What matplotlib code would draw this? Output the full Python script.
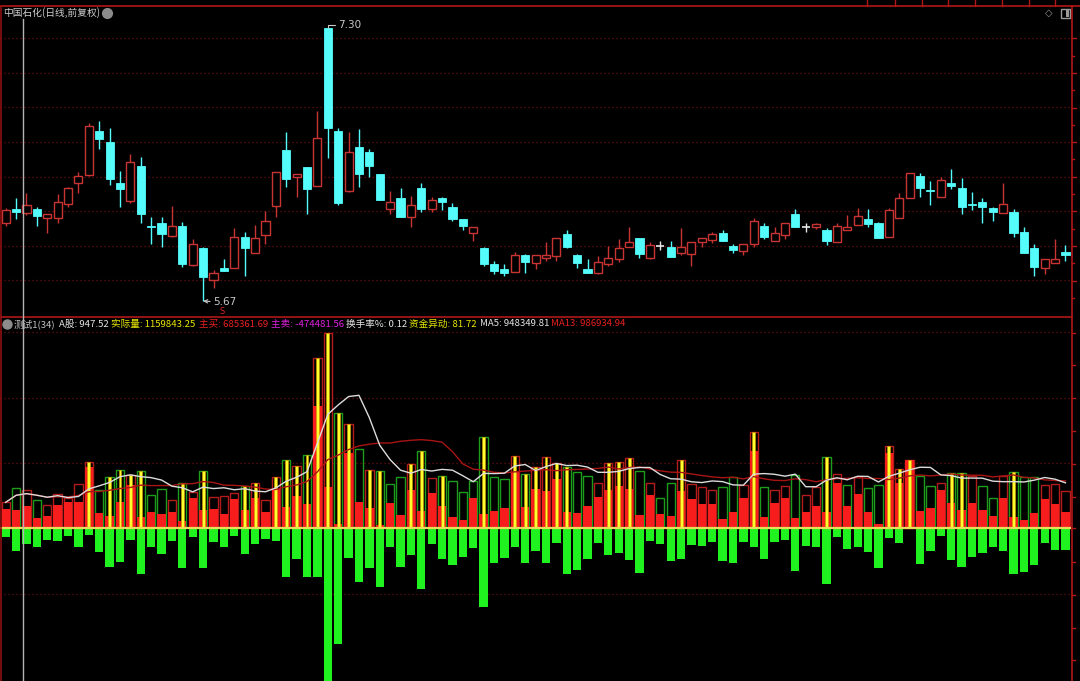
import numpy as np
import pandas as pd
import matplotlib
matplotlib.use("Agg")
import matplotlib.pyplot as plt
from matplotlib.lines import Line2D
from matplotlib.patches import Rectangle

plt.rcParams['font.family'] = ['Noto Sans CJK SC', 'DejaVu Sans']

# ---------------- data ----------------
title = "中国石化(日线,前复权)"

open_ = [6.134, 6.219, 6.197, 6.219, 6.168, 6.168, 6.249, 6.373, 6.422, 6.685,
         6.621, 6.376, 6.267, 6.478, 6.118, 6.136, 6.060, 6.118, 5.887, 5.985,
         5.794, 5.869, 5.865, 6.054, 5.959, 6.064, 6.239, 6.572, 6.412, 6.468,
         6.359, 7.300, 6.685, 6.329, 6.591, 6.562, 6.428, 6.218, 6.283, 6.173,
         6.343, 6.218, 6.283, 6.230, 6.160, 6.074, 5.985, 5.891, 5.861, 5.845,
         5.945, 5.899, 5.925, 5.941, 6.068, 5.945, 5.861, 5.836, 5.889, 5.919,
         5.991, 6.048, 5.925, 6.000, 5.994, 5.959, 5.951, 6.024, 6.034, 6.074,
         6.000, 5.969, 6.009, 6.118, 6.030, 6.064, 6.188, 6.110, 6.114, 6.094,
         6.024, 6.094, 6.124, 6.160, 6.138, 6.050, 6.168, 6.283, 6.416, 6.333,
         6.289, 6.373, 6.343, 6.249, 6.259, 6.224, 6.197, 6.200, 6.084, 5.985,
         5.865, 5.899, 5.965]
high = [6.224, 6.283, 6.317, 6.230, 6.188, 6.307, 6.349, 6.442, 6.731, 6.745,
        6.701, 6.446, 6.548, 6.528, 6.170, 6.170, 6.237, 6.144, 6.038, 5.994,
        5.855, 5.921, 6.108, 6.084, 6.124, 6.207, 6.442, 6.677, 6.427, 6.468,
        6.805, 7.300, 6.703, 6.677, 6.697, 6.578, 6.428, 6.329, 6.343, 6.297,
        6.376, 6.289, 6.293, 6.253, 6.160, 6.110, 5.994, 5.911, 5.891, 5.965,
        5.951, 5.945, 6.021, 6.048, 6.094, 5.951, 5.919, 5.939, 5.999, 6.038,
        6.114, 6.048, 6.024, 6.030, 6.030, 6.104, 6.024, 6.044, 6.080, 6.094,
        6.010, 6.010, 6.164, 6.138, 6.114, 6.138, 6.219, 6.138, 6.138, 6.108,
        6.134, 6.184, 6.224, 6.219, 6.144, 6.224, 6.313, 6.436, 6.436, 6.387,
        6.409, 6.458, 6.403, 6.319, 6.283, 6.230, 6.373, 6.219, 6.114, 6.010,
        5.919, 6.038, 6.004]
low = [6.118, 6.160, 6.184, 6.118, 6.078, 6.138, 6.230, 6.313, 6.416, 6.578,
       6.363, 6.230, 6.253, 6.138, 6.010, 5.994, 6.054, 5.871, 5.879, 5.670,
       5.746, 5.851, 5.865, 5.819, 5.959, 6.010, 6.170, 6.353, 6.293, 6.188,
       6.359, 6.522, 6.245, 6.323, 6.353, 6.409, 6.273, 6.190, 6.170, 6.110,
       6.203, 6.203, 6.213, 6.150, 6.094, 6.030, 5.881, 5.831, 5.819, 5.842,
       5.839, 5.861, 5.911, 5.911, 5.985, 5.869, 5.839, 5.831, 5.881, 5.905,
       5.991, 5.925, 5.921, 5.975, 5.931, 5.945, 5.881, 5.991, 6.015, 6.030,
       5.955, 5.945, 5.994, 6.038, 6.030, 6.038, 6.110, 6.084, 6.098, 6.004,
       6.024, 6.094, 6.124, 6.110, 6.048, 6.050, 6.168, 6.283, 6.293, 6.243,
       6.289, 6.337, 6.188, 6.213, 6.138, 6.148, 6.194, 6.054, 5.955, 5.821,
       5.831, 5.895, 5.911]
close = [6.213, 6.203, 6.242, 6.178, 6.188, 6.259, 6.343, 6.415, 6.717, 6.636,
         6.397, 6.337, 6.498, 6.190, 6.110, 6.068, 6.118, 5.891, 6.010, 5.812,
         5.837, 5.851, 6.054, 5.987, 6.046, 6.148, 6.439, 6.397, 6.427, 6.337,
         6.642, 6.705, 6.253, 6.558, 6.428, 6.478, 6.273, 6.259, 6.170, 6.242,
         6.219, 6.273, 6.263, 6.160, 6.118, 6.110, 5.891, 5.851, 5.836, 5.945,
         5.901, 5.945, 5.945, 6.048, 5.994, 5.895, 5.839, 5.901, 5.929, 5.985,
         6.024, 5.951, 6.004, 6.000, 5.931, 5.994, 6.024, 6.044, 6.068, 6.030,
         5.975, 6.010, 6.148, 6.054, 6.074, 6.138, 6.110, 6.110, 6.130, 6.030,
         6.118, 6.110, 6.178, 6.130, 6.048, 6.213, 6.283, 6.436, 6.347, 6.327,
         6.393, 6.357, 6.230, 6.243, 6.230, 6.203, 6.249, 6.078, 5.955, 5.871,
         5.919, 5.919, 5.945]

# lower indicator (units: 万手)
actual_vol = [26.0, 40.0, 38.0, 28.3, 23.0, 34.0, 30.0, 44.0, 66.0, 38.3,
              51.0, 58.7, 53.3, 57.0, 33.3, 39.0, 28.0, 45.3, 36.7, 57.0,
              31.7, 32.0, 35.3, 42.0, 45.3, 28.0, 51.3, 68.7, 62.0, 73.0,
              170.3, 195.7, 115.7, 104.0, 79.3, 58.3, 57.7, 44.0, 51.3, 64.0,
              77.0, 50.0, 52.3, 47.3, 36.0, 47.3, 91.7, 51.3, 49.3, 72.3,
              54.3, 61.7, 71.0, 65.0, 61.7, 56.0, 52.3, 45.0, 65.0, 66.3,
              70.0, 57.7, 45.0, 30.0, 45.0, 68.0, 44.7, 41.0, 38.0, 41.7,
              51.7, 43.3, 96.0, 41.0, 38.0, 42.3, 53.3, 33.3, 41.0, 71.0,
              54.0, 43.3, 51.0, 40.0, 43.3, 82.3, 59.0, 68.0, 52.7, 42.3,
              45.0, 55.3, 55.7, 52.7, 42.0, 30.0, 52.7, 56.0, 51.0, 51.0,
              43.3, 44.3, 37.7]
main_buy = [19.3, 18.0, 22.7, 10.7, 12.7, 23.3, 26.0, 26.7, 61.0, 15.7,
            12.7, 26.7, 43.3, 11.7, 16.3, 14.7, 16.3, 7.3, 30.7, 18.0,
            19.3, 14.0, 29.3, 18.0, 30.7, 16.7, 39.3, 21.0, 32.3, 24.7,
            122.3, 41.7, 4.0, 75.7, 26.7, 20.7, 3.0, 25.7, 13.3, 38.0,
            17.3, 35.0, 22.7, 11.0, 8.3, 30.7, 14.3, 17.0, 20.3, 56.7,
            21.0, 39.3, 37.3, 49.3, 16.3, 15.3, 22.3, 31.0, 38.7, 42.7,
            39.3, 13.0, 33.3, 14.7, 12.3, 37.0, 29.3, 24.7, 24.0, 9.3,
            16.7, 30.7, 77.7, 11.7, 25.7, 30.7, 10.7, 16.3, 22.7, 16.3,
            45.7, 22.3, 34.3, 16.3, 4.0, 75.0, 45.0, 68.0, 17.3, 20.7,
            38.7, 25.0, 18.0, 25.0, 18.3, 12.7, 30.7, 11.0, 8.0, 15.0,
            29.3, 24.3, 16.7]
main_sell = [-8.3, -22.7, -15.7, -18.3, -11.7, -12.3, -7.3, -19.0, -6.7, -23.3,
             -39.0, -33.3, -11.7, -46.0, -18.3, -25.7, -12.7, -39.3, -8.3, -40.0,
             -13.7, -19.0, -7.3, -26.0, -15.7, -11.0, -13.0, -48.3, -30.7, -49.0,
             -48.3, -165.0, -116.0, -29.3, -53.3, -39.7, -59.0, -19.0, -39.0, -26.7,
             -60.7, -16.0, -30.7, -36.7, -28.3, -20.0, -78.3, -34.3, -30.0, -18.3,
             -34.3, -22.7, -34.3, -15.0, -45.7, -41.7, -30.7, -15.0, -26.7, -25.0,
             -31.7, -45.0, -12.7, -15.7, -32.3, -31.0, -16.7, -17.3, -14.0, -32.3,
             -35.0, -14.0, -19.0, -30.7, -13.3, -12.0, -42.7, -17.7, -19.0, -55.7,
             -9.0, -21.0, -18.3, -23.3, -39.3, -9.3, -15.0, -0.7, -36.0, -22.7,
             -7.3, -31.7, -39.0, -28.3, -24.3, -18.3, -22.7, -46.0, -43.7, -36.7,
             -15.0, -21.3, -21.7]
surge_days = [8, 10, 11, 12, 13, 17, 19, 23, 24, 26, 27, 28, 29, 30, 31, 32, 33,
              35, 36, 39, 40, 42, 46, 49, 50, 51, 52, 53, 54, 58, 59, 60, 65,
              72, 79, 85, 86, 87, 91, 92, 97]

high_label, low_label = "7.30", "5.67"
header_items = [("测试1(34)", '#c4c4c4'), ("A股: 947.52", '#e6e6e6'),
                ("实际量: 1159843.25", '#e8e800'), ("主买: 685361.69", '#e82020'),
                ("主卖: -474481.56", '#e020e0'), ("换手率%: 0.12", '#e6e6e6'),
                ("资金异动: 81.72", '#e8e800'), ("MA5: 948349.81", '#e6e6e6'),
                ("MA13: 986934.94", '#e82020')]
header_x = [14, 59, 111, 199, 271, 346, 409, 480, 551]

# ---------------- layout ----------------
W, H = 1080, 681
fig = plt.figure(figsize=(W / 100, H / 100), dpi=100, facecolor='black')

def fx(x):
    return x / W

def fy(y):
    return 1 - y / H

def px_line(x0, y0, x1, y1, **kw):
    fig.add_artist(Line2D([fx(x0), fx(x1)], [fy(y0), fy(y1)], **kw))

LEFT, RIGHT = 0.0, 1071.7
TOP_A, TOP_B = 5.5, 316.7
STEP, X0PX = 10.39, 5.7

ax1 = fig.add_axes([fx(LEFT), fy(TOP_B), fx(RIGHT - LEFT), (TOP_B - TOP_A) / H])
ax2 = fig.add_axes([fx(LEFT), 0, fx(RIGHT - LEFT), (H - TOP_B) / H])
xlim = ((LEFT - X0PX) / STEP, (RIGHT - X0PX) / STEP)
for ax in (ax1, ax2):
    ax.set_facecolor('black')
    ax.set_xlim(*xlim)
    ax.set_xticks([]); ax.set_yticks([])
    for s in ax.spines.values():
        s.set_visible(False)
ax1.set_ylim(5.5764, 7.4343)
ax2.set_ylim(-152.7, 211.6)

GRID_C = '#6e0c0c'
for k in range(8):
    ypx = 38.3 + 34.6 * k
    f = (TOP_B - ypx) / (TOP_B - TOP_A)
    ax1.plot([0, 1], [f, f], transform=ax1.transAxes, color=GRID_C, lw=0.9,
             ls=(0, (1, 2.2)), zorder=0.5)
for v in (-65.3, 65.3, 130.6, 195.9):
    ax2.axhline(v, color=GRID_C, lw=0.9, ls=(0, (1, 2.2)), zorder=0.5)

# ---------------- candles ----------------
o = np.array(open_); h = np.array(high); l = np.array(low); c = np.array(close)
n = len(c)
xs = np.arange(n)
RED, CYAN = '#c83434', '#54fcfc'
up = c > o
dn = c < o
flat = c == o
wick_col = np.where(up, RED, np.where(dn, CYAN, '#e8e8e8'))
ax1.vlines(xs, l, h, colors=wick_col, lw=1, zorder=2)
bw = 0.78
ax1.bar(xs[up], (c - o)[up], bottom=o[up], width=bw, facecolor='black',
        edgecolor=RED, lw=1, zorder=3)
ax1.bar(xs[dn], (o - c)[dn], bottom=c[dn], width=bw, facecolor=CYAN,
        edgecolor=CYAN, lw=0.6, zorder=3)
ax1.hlines(c[flat], xs[flat] - bw / 2, xs[flat] + bw / 2, colors='#e8e8e8', lw=1.2, zorder=3)

imax = int(np.argmax(h)); imin = int(np.argmin(l))
ax1.annotate(high_label, xy=(imax, h[imax]), xytext=(7.5, 2.5), textcoords='offset points',
             color='#c8c8c8', fontsize=7.5, va='center', ha='left', family='DejaVu Sans',
             arrowprops=dict(arrowstyle='-', color='#c8c8c8', lw=0.8, shrinkA=0, shrinkB=0,
                             connectionstyle='angle,angleA=0,angleB=90,rad=0'))
ax1.annotate(low_label, xy=(imin, l[imin]), xytext=(7.0, -1.0), textcoords='offset points',
             color='#c8c8c8', fontsize=7.5, va='center', ha='left', family='DejaVu Sans',
             arrowprops=dict(arrowstyle='->', color='#c8c8c8', lw=0.8, shrinkA=0, shrinkB=0,
                             mutation_scale=6))
fig.text(fx(222), fy(312), 'S', color='#e02020', fontsize=6, ha='center', va='center',
         family='DejaVu Sans')

# ---------------- lower indicator ----------------
av = np.array(actual_vol); mb = np.array(main_buy); ms = np.array(main_sell)
prev = np.concatenate([[o[0]], c[:-1]])
vol_up = c >= prev
edge = np.where(vol_up, '#b41c1c', '#1c9e1c')
vw = 0.80
ax2.bar(xs, av, width=vw, facecolor='none', edgecolor=edge, lw=1, zorder=2)
ax2.bar(xs, mb, width=vw, color='#f71d1d', lw=0, zorder=3)
ax2.bar(xs, ms, width=vw, color='#1ff21f', lw=0, zorder=3)
sd = np.array(surge_days)
ax2.bar(xs[sd], av[sd], width=0.28, color='#ffff2e', edgecolor='#d49a00', lw=0.4, zorder=4)
ma5 = pd.Series(av).rolling(5, min_periods=1).mean()
ma13 = pd.Series(av).rolling(13, min_periods=1).mean()
ax2.plot(xs, ma13, color='#a81414', lw=1.0, zorder=6)
ax2.plot(xs, ma5, color='#dcdcdc', lw=1.0, zorder=7)
ax2.plot([xlim[0], (1070 - X0PX) / STEP], [0, 0], color='#e8dc5a', lw=1.6, zorder=5)

# ---------------- frame / decorations ----------------
FR = '#b01818'
px_line(0, TOP_A, W, TOP_A, color=FR, lw=1.2)
px_line(0, TOP_B, RIGHT, TOP_B, color=FR, lw=1.2)
px_line(0.7, TOP_A, 0.7, H, color='#8a1010', lw=1.2)
px_line(RIGHT, TOP_A, RIGHT, H, color=FR, lw=1.2)
for k in range(16):
    ypx = 38.3 + 17.3 * k
    if ypx < TOP_B - 2:
        px_line(RIGHT, ypx, RIGHT + (4 if k % 2 == 0 else 2.5), ypx, color=FR, lw=1)
for ypx in (332.7, 365.5, 398.2, 431, 463.7, 496.5, 528.3, 561.5, 594.7, 627.5, 660.3):
    px_line(RIGHT, ypx, RIGHT + 3, ypx, color=FR, lw=1)
for xsep in (867, 895, 922, 948, 975, 1002, 1029, 1055):
    px_line(xsep, 0, xsep, TOP_A, color=FR, lw=1)

px_line(22.5, 19, 22.5, H, color='#b4b4b4', lw=1)

fig.text(fx(3), fy(12.5), title, color='#cccccc', fontsize=7.0, ha='left', va='center')
fig.add_artist(Line2D([fx(107)], [fy(13)], marker='o', markersize=7, color='#8c8c8c'))
fig.text(fx(1049), fy(13), '◇', color='#9a9a9a', fontsize=7, ha='center', va='center',
         family='DejaVu Sans')
fig.add_artist(Rectangle((fx(1061), fy(18)), fx(9), 9 / H, facecolor='none',
                         edgecolor='#9a9a9a', lw=1))
fig.add_artist(Rectangle((fx(1066), fy(17)), fx(3), 7 / H, facecolor='#9a9a9a', lw=0))

fig.add_artist(Line2D([fx(6.5)], [fy(324)], marker='o', markersize=6.5, color='#8c8c8c'))
for (txt, col), xp in zip(header_items, header_x):
    fig.text(fx(xp), fy(324), txt, color=col, fontsize=6.9, ha='left', va='center')

fig.savefig('out.png', dpi=100, facecolor='black')
